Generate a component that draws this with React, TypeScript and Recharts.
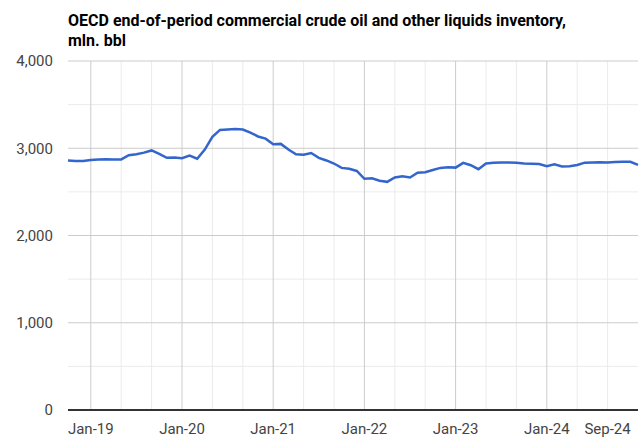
import { LineChart, Line, XAxis, YAxis, ReferenceLine } from "recharts";

// monthly values, Oct-18 .. Jan-25
const inventory = [
  2860, 2855, 2855, 2865, 2872, 2875, 2870, 2872, 2920, 2932, 2950, 2975,
  2935, 2890, 2895, 2885, 2915, 2880, 2985, 3130, 3210, 3215, 3220, 3215,
  3180, 3135, 3110, 3045, 3050, 2985, 2930, 2925, 2945, 2890, 2860, 2825,
  2775, 2765, 2740, 2650, 2655, 2628, 2615, 2665, 2678, 2665, 2720, 2725,
  2750, 2775, 2782, 2778, 2832, 2805, 2760, 2825, 2835, 2838, 2838, 2835,
  2825, 2822, 2820, 2795, 2815, 2790, 2795, 2808, 2835, 2838, 2840, 2838,
  2842, 2845, 2845, 2810,
];

const tickIdx = [3, 15, 27, 39, 51, 63, 71];
const tickLabels = ["Jan-19", "Jan-20", "Jan-21", "Jan-22", "Jan-23", "Jan-24", "Sep-24"];
const yTicks = [0, 1000, 2000, 3000, 4000];
const yMinor = [500, 1500, 2500, 3500];
const xMajor = [3, 15, 27, 39, 51, 63];
const xMinor = [7, 11, 19, 23, 31, 35, 43, 47, 55, 59, 67, 71];

const data = inventory.map((v, i) => ({ i, v }));

export default function App() {
  return (
    <div style={{ position: "absolute", left: 0, top: 0, width: 639, height: 438, background: "#fff", fontFamily: "Roboto" }}>
      <div style={{ position: "absolute", left: 68, top: 11, fontSize: 16, fontWeight: 700, lineHeight: "20px", color: "#000", whiteSpace: "nowrap" }}>
        <div>OECD end-of-period commercial crude oil and other liquids inventory,</div>
        <div>mln. bbl</div>
      </div>
      <LineChart width={639} height={438} data={data} margin={{ top: 61, right: 1, bottom: 0, left: 0 }}>
        <XAxis
          type="number"
          dataKey="i"
          domain={[0, 75]}
          ticks={tickIdx}
          tickFormatter={(v) => tickLabels[tickIdx.indexOf(v)]}
          height={28}
          tickLine={false}
          tickSize={0}
          tickMargin={13}
          axisLine={{ stroke: "#333", strokeWidth: 2 }}
          tick={{ fill: "#444", fontSize: 15 }}
        />
        <YAxis
          domain={[0, 4000]}
          ticks={yTicks}
          width={68}
          tickLine={false}
          tickSize={0}
          tickMargin={15}
          axisLine={false}
          tickFormatter={(v) => v.toLocaleString("en-US")}
          tick={{ fill: "#444", fontSize: 15 }}
        />
        {yMinor.map((y) => (
          <ReferenceLine key={"ym" + y} y={y} stroke="#ebebeb" strokeWidth={1} />
        ))}
        {xMinor.map((x) => (
          <ReferenceLine key={"xm" + x} x={x} stroke="#ebebeb" strokeWidth={1} />
        ))}
        {yTicks.slice(1).map((y) => (
          <ReferenceLine key={"y" + y} y={y} stroke="#ccc" strokeWidth={1} />
        ))}
        {xMajor.map((x) => (
          <ReferenceLine key={"x" + x} x={x} stroke="#ccc" strokeWidth={1} />
        ))}
        <Line
          type="linear"
          dataKey="v"
          stroke="#3366cc"
          strokeWidth={2.5}
          dot={false}
          isAnimationActive={false}
        />
      </LineChart>
    </div>
  );
}
